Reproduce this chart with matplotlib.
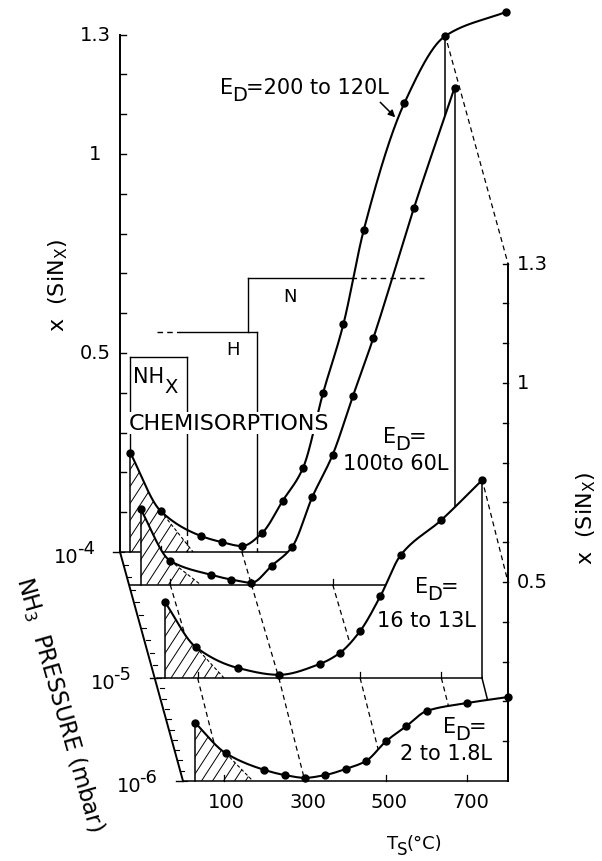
import numpy as np
import matplotlib
matplotlib.use("Agg")
import matplotlib.pyplot as plt
from matplotlib.patches import Polygon
from matplotlib.collections import LineCollection

plt.rcParams['font.family'] = ['DejaVu Sans']
plt.rcParams['mathtext.fontset'] = 'dejavusans'
plt.rcParams['mathtext.default'] = 'rm'

# ---------------- data ----------------
# NH3 pressure (mbar) of each exposure series, listed back to front
pressures = [1e-4, 5.5e-5, 1e-5, 1e-6]

# substrate temperature (deg C) and nitride composition x(SiN_x)
temp_200L = [25, 100, 200, 250, 300, 350, 400, 450, 500, 550, 600, 700, 800, 950]
x_200L = [0.25, 0.103, 0.040, 0.025, 0.015, 0.048, 0.128, 0.21, 0.40, 0.573, 0.809, 1.128, 1.296, 1.357]

temp_100L = [27, 100, 200, 250, 300, 350, 400, 450, 500, 550, 600, 700, 800]
x_100L = [0.19, 0.060, 0.025, 0.013, 0.005, 0.048, 0.095, 0.221, 0.327, 0.475, 0.62, 0.947, 1.249]

temp_16L = [20, 95, 200, 300, 400, 450, 500, 550, 600, 700, 800]
x_16L = [0.19, 0.078, 0.025, 0.008, 0.035, 0.063, 0.118, 0.206, 0.309, 0.397, 0.497]

temp_2L = [30, 105, 200, 250, 300, 350, 400, 450, 500, 550, 600, 700, 800]
x_2L = [0.146, 0.070, 0.028, 0.015, 0.008, 0.015, 0.030, 0.050, 0.100, 0.138, 0.176, 0.196, 0.211]

# chemisorption regimes: temperature limits (deg C) and x level of each step
nhx_limits = [25, 165]
nhx_level = 0.49
h_limits = [90, 148, 337]
h_level = 0.553
n_limits = [315, 568, 748]
n_level = 0.688

temp_ticks = [100, 300, 500, 700]
x_tick_labels = [0.5, 1, 1.3]
pressure_exponents = [-4, -5, -6]

# ---------------- oblique projection ----------------
T_MAX = 800.0
LOGP_KNOTS = [-6, -5, -4]
ORIGIN_X = [183.0, 157.0, 120.0]
ORIGIN_Y = [782.0, 679.0, 553.0]
PX_PER_DEG = 325.0 / 800.0
PX_PER_X = 398.0


def proj(T, x, p):
    lp = np.log10(p)
    ox = np.interp(lp, LOGP_KNOTS, ORIGIN_X)
    oy = np.interp(lp, LOGP_KNOTS, ORIGIN_Y)
    T = np.asarray(T, float)
    x = np.asarray(x, float)
    return ox + T * PX_PER_DEG, oy - x * PX_PER_X


def pchip(xk, yk, xs):
    xk = np.asarray(xk, float)
    yk = np.asarray(yk, float)
    h = np.diff(xk)
    d = np.diff(yk) / h
    m = np.zeros_like(yk)
    for i in range(1, len(xk) - 1):
        if d[i - 1] * d[i] > 0:
            w1 = 2 * h[i] + h[i - 1]
            w2 = h[i] + 2 * h[i - 1]
            m[i] = (w1 + w2) / (w1 / d[i - 1] + w2 / d[i])
    m[0] = d[0]
    m[-1] = d[-1]
    xs = np.asarray(xs, float)
    idx = np.clip(np.searchsorted(xk, xs) - 1, 0, len(h) - 1)
    t = (xs - xk[idx]) / h[idx]
    h00 = 2 * t**3 - 3 * t**2 + 1
    h10 = t**3 - 2 * t**2 + t
    h01 = -2 * t**3 + 3 * t**2
    h11 = t**3 - t**2
    return (h00 * yk[idx] + h10 * h[idx] * m[idx]
            + h01 * yk[idx + 1] + h11 * h[idx] * m[idx + 1])


fig = plt.figure(figsize=(6.02, 8.62), dpi=100)
ax = fig.add_axes([0, 0, 1, 1])
ax.set_xlim(0, 602)
ax.set_ylim(862, 0)
ax.axis('off')
renderer = fig.canvas.get_renderer()


def rich(x, y, parts, z=100, gap=0.0):
    """Write text pieces left to right on one baseline; dy shifts a piece down."""
    for s, size, dy in parts:
        t = ax.text(x, y + dy, s, fontsize=size, va='baseline', zorder=z)
        x += t.get_window_extent(renderer).width + gap
    return x


series = [
    (temp_200L, x_200L, (100, 180)),
    (temp_100L, x_100L, (100, 175)),
    (temp_16L, x_16L, (95, 165)),
    (temp_2L, x_2L, (105, 172)),
]

LW_CURVE = 1.5
LW_FRAME = 1.1
DASH = (0, (4, 3))


def hatch_segments(xy, spacing=11.0, angle=57.0):
    xmin, ymin = xy.min(axis=0)
    xmax, ymax = xy.max(axis=0)
    run = (ymax - ymin) / np.tan(np.radians(angle))
    starts = np.arange(xmin - run, xmax + spacing, spacing)
    return [[(s, ymax), (s + run, ymin)] for s in starts]


for k, ((ts, xs, (t_a, t_b)), p) in enumerate(zip(series, pressures)):
    base = 10 * (k + 1)
    t_s = ts[0]
    tt = np.linspace(t_s, ts[-1], 600)
    xx = pchip(ts, xs, tt)

    # white surface below the curve hides what lies behind it
    t_reg = np.linspace(t_s, T_MAX, 400)
    x_reg = pchip(ts, xs, t_reg)
    rx, ry = proj(np.r_[t_reg, T_MAX, t_s], np.r_[x_reg, 0, 0], p)
    ax.add_patch(Polygon(np.c_[rx, ry], closed=True, facecolor='white',
                         edgecolor='none', zorder=base))

    # hatched low-temperature chemisorption zone
    t_h = np.linspace(t_s, t_a, 60)
    hx, hy = proj(np.r_[t_h, t_b, t_s], np.r_[pchip(ts, xs, t_h), 0, 0], p)
    hpoly = Polygon(np.c_[hx, hy], closed=True, fill=False, lw=0,
                    transform=ax.transData, zorder=base + 1)
    ax.add_patch(hpoly)
    lc = LineCollection(hatch_segments(np.c_[hx, hy]), colors='k',
                        linewidths=0.7, zorder=base + 1)
    ax.add_collection(lc)
    lc.set_clip_path(hpoly)
    bx, by = proj([t_a, t_b], [pchip(ts, xs, [t_a])[0], 0], p)
    ax.plot(bx, by, color='k', lw=0.8, ls=(0, (3, 2)), zorder=base + 1)

    # floor, its ticks, left riser and right wall
    fx, fy = proj([0, T_MAX], [0, 0], p)
    ax.plot(fx, fy, color='k', lw=LW_FRAME, zorder=base + 2)
    for t in temp_ticks:
        tx, ty = proj(t, 0, p)
        ax.plot([tx, tx], [ty, ty - 6], color='k', lw=0.9, zorder=base + 2)
    vx, vy = proj([t_s, t_s], [0, xs[0]], p)
    ax.plot(vx, vy, color='k', lw=LW_FRAME, zorder=base + 2)
    x_end = pchip(ts, xs, [T_MAX])[0]
    wx, wy = proj([T_MAX, T_MAX], [0, x_end], p)
    ax.plot(wx, wy, color='k', lw=LW_FRAME, zorder=base + 2)

    # measured curve
    cx, cy = proj(tt, xx, p)
    ax.plot(cx, cy, color='k', lw=LW_CURVE, zorder=base + 3,
            solid_capstyle='round')
    px_, py_ = proj(ts, xs, p)
    ax.plot(px_, py_, 'o', color='k', ms=5.0, zorder=base + 4)

    # depth lines joining this plane to the next one in front
    if k + 1 < len(pressures):
        q = pressures[k + 1]
        for t in temp_ticks:
            ax.plot(*zip(proj(t, 0, p), proj(t, 0, q)), color='k', lw=0.9,
                    ls=DASH, zorder=base + 5)
        ax.plot(*zip(proj(T_MAX, 0, p), proj(T_MAX, 0, q)), color='k',
                lw=LW_FRAME, zorder=base + 5)

# dashed guides along the hot edge at x = 1.3 and x = 0.5
ax.plot(*zip(proj(T_MAX, 1.3, pressures[0]), proj(T_MAX, 1.3, pressures[-1])),
        color='k', lw=0.9, ls=DASH, zorder=45)
ax.plot(*zip(proj(T_MAX, 0.5, pressures[2]), proj(T_MAX, 0.5, pressures[-1])),
        color='k', lw=0.9, ls=DASH, zorder=45)

# ---------------- chemisorption steps (back plane) ----------------
pb = pressures[0]
z_step = 21.2


def seg(t0, x0, t1, x1, ls='-'):
    ax.plot(*zip(proj(t0, x0, pb), proj(t1, x1, pb)), color='k', lw=1.0,
            ls=ls if ls == '-' else DASH, zorder=z_step)


def curve_at(t):
    return pchip(temp_200L, x_200L, [t])[0]


seg(nhx_limits[0], curve_at(nhx_limits[0]), nhx_limits[0], nhx_level)
seg(nhx_limits[0], nhx_level, nhx_limits[1], nhx_level)
seg(nhx_limits[1], nhx_level, nhx_limits[1], curve_at(nhx_limits[1]))
seg(nhx_limits[1], curve_at(nhx_limits[1]), nhx_limits[1], 0, ls='--')
seg(h_limits[0], h_level, h_limits[1], h_level, ls='--')
seg(h_limits[1], h_level, h_limits[2], h_level)
seg(h_limits[2], h_level, h_limits[2], curve_at(h_limits[2]))
seg(h_limits[2], curve_at(h_limits[2]), h_limits[2], 0, ls='--')
seg(n_limits[0], h_level, n_limits[0], n_level)
seg(n_limits[0], n_level, n_limits[1], n_level)
seg(n_limits[1], n_level, n_limits[2], n_level, ls='--')

rich(133, 383, [("NH", 15, 0), ("X", 14, 10)], z=60)
ax.text(233, 355, "H", fontsize=13, ha='center', va='baseline', zorder=60)
ax.text(290, 302, "N", fontsize=13, ha='center', va='baseline', zorder=60)
ax.text(129, 430, "CHEMISORPTIONS", fontsize=16, va='baseline', zorder=21.6,
        bbox=dict(facecolor='white', edgecolor='none', pad=1.0))

# ---------------- axes frame ----------------
# left composition axis (back plane, T = 0)
ax0x, ax0y = proj([0, 0], [0, 1.3], pb)
ax.plot(ax0x, ax0y, color='k', lw=1.4, zorder=50)
for v in np.arange(1, 14) / 10:
    tx, ty = proj(0, v, pb)
    ax.plot([tx, tx + 6], [ty, ty], color='k', lw=1.0, zorder=50)
for v in x_tick_labels:
    tx, ty = proj(0, v, pb)
    ax.text(tx - 25, ty, f"{v:g}", fontsize=14, ha='center', va='center', zorder=60)

# right composition axis (front plane, T = 800)
pf = pressures[-1]
ax1x, ax1y = proj([T_MAX, T_MAX], [0, 1.3], pf)
ax.plot(ax1x, ax1y, color='k', lw=1.4, zorder=50)
for v in np.arange(1, 14) / 10:
    tx, ty = proj(T_MAX, v, pf)
    ax.plot([tx - 5, tx], [ty, ty], color='k', lw=1.0, zorder=50)
for v in x_tick_labels:
    tx, ty = proj(T_MAX, v, pf)
    ax.text(tx + 9, ty, f"{v:g}", fontsize=14, ha='left', va='center', zorder=60)

# pressure axis
dx0, dy0 = proj(0, 0, 1e-6)
dx1, dy1 = proj(0, 0, 1e-4)
ax.plot([dx0, dx1], [dy0, dy1], color='k', lw=1.4, zorder=50)
for lp in np.arange(-6, -3.95, 0.1):
    tx, ty = proj(0, 0, 10 ** lp)
    ax.plot([tx, tx + 4], [ty, ty], color='k', lw=0.8, zorder=50)
for e in pressure_exponents:
    tx, ty = proj(0, 0, 10.0 ** e)
    ax.plot([tx - 7, tx], [ty, ty], color='k', lw=1.0, zorder=50)
    rich(tx - 66, ty + 10, [("10", 14, 0), (f"-{-e}", 13, -9)], z=60, gap=-2)

# temperature labels on the front floor
for t in temp_ticks:
    tx, ty = proj(t, 0, pf)
    ax.text(tx + 3, ty + 21, f"{t}", fontsize=14, ha='center', va='center', zorder=60)

# ---------------- labels ----------------
rich(387, 849, [("T", 13, 0), ("S", 12, 6), ("(°C)", 13, 0)], z=60, gap=-1)
ax.text(58, 285, r"x  (SiN$_X$)", fontsize=16, ha='center', va='center', rotation=90)
ax.text(586, 518, r"x  (SiN$_X$)", fontsize=16, ha='center', va='center', rotation=90)
ax.text(60, 704, r"NH$_3$  PRESSURE (mbar)", fontsize=16.5, ha='center',
        va='center', rotation=-74, rotation_mode='anchor')

rich(220, 94, [("E", 15, 0), ("D", 14, 7), ("=200 to 120L", 15, 0)], gap=-1)
rich(383, 443, [("E", 15, 0), ("D", 14, 7), ("=", 15, 0)], gap=-1)
ax.text(343, 470, "100to 60L", fontsize=15, va='baseline', zorder=100)
rich(415, 593, [("E", 15, 0), ("D", 14, 7), ("=", 15, 0)], gap=-1)
ax.text(377, 627, "16 to 13L", fontsize=15, va='baseline', zorder=100)
rich(443, 733, [("E", 15, 0), ("D", 14, 7), ("=", 15, 0)], gap=-1)
ax.text(400, 760, "2 to 1.8L", fontsize=15, va='baseline', zorder=100)

tip = proj(685, curve_at(685), pb)
ax.annotate("", xy=(tip[0] - 3, tip[1]), xytext=(tip[0] - 18, tip[1] - 15),
            arrowprops=dict(arrowstyle='-|>', color='k', lw=1.1,
                            mutation_scale=10, shrinkA=0, shrinkB=0),
            zorder=100)

fig.savefig("out.png", dpi=100, facecolor='white')
